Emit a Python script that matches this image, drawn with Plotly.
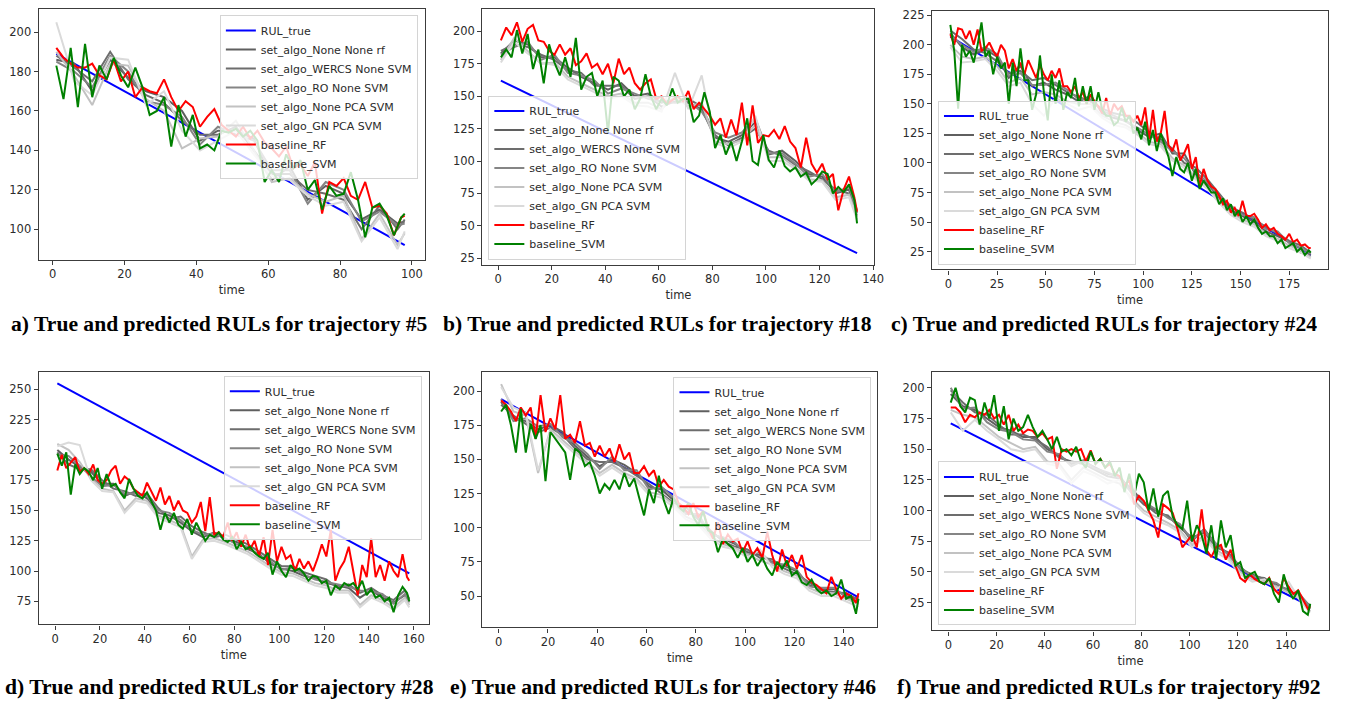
import plotly.graph_objects as go

W, H = 1346, 705

SERIES_NAMES = [
    "RUL_true",
    "set_algo_None None rf",
    "set_algo_WERCS None SVM",
    "set_algo_RO None SVM",
    "set_algo_None PCA SVM",
    "set_algo_GN PCA SVM",
    "baseline_RF",
    "baseline_SVM",
]
SERIES_COLORS = ["#0000ff", "#5f5f5f", "#6d6d6d", "#858585", "#c2c2c2", "#dadada", "#ff0000", "#008000"]

CAPTIONS = [
    "a) True and predicted RULs for trajectory #5",
    "b) True and predicted RULs for trajectory #18",
    "c) True and predicted RULs for trajectory #24",
    "d) True and predicted RULs for trajectory #28",
    "e) True and predicted RULs for trajectory #46",
    "f) True and predicted RULs for trajectory #92",
]

# ---------------- trajectory #5 ----------------
A_LEN = 98
A_TRUE = [189, 92]
A_RF = [192, 187, 184, 182, 182, 184, 178, 176, 186, 175,
        180, 167, 172, 170, 169, 176, 167, 160, 165, 162,
        152, 157, 161, 153, 150, 147, 152, 146, 150, 144,
        141, 137, 142, 131, 133, 127, 134, 108, 124, 122,
        126, 117, 115, 124, 111, 112, 108, 97, 106, 107]
A_SVM = [183, 166, 192, 162, 194, 167, 183, 176, 187, 178,
         172, 182, 172, 158, 160, 167, 142, 163, 147, 158,
         141, 143, 140, 150, 149, 151, 147, 150, 145, 124,
         130, 124, 138, 131, 135, 120, 125, 110, 122, 117,
         118, 129, 115, 96, 111, 113, 107, 97, 106, 108]
A_GRAY_STEP = 5
A_G1 = [186, 184, 170, 186, 177, 170, 167, 160, 145, 150, 150, 146, 125, 132, 115, 122, 118, 105, 110, 103, 104]
A_G2 = [188, 182, 175, 190, 176, 168, 164, 155, 148, 148, 152, 140, 128, 128, 120, 118, 115, 100, 112, 100, 105]
A_G3 = [185, 180, 172, 188, 180, 165, 163, 157, 143, 152, 148, 145, 130, 130, 113, 124, 120, 104, 109, 102, 103]
A_G4 = [190, 178, 163, 184, 183, 166, 160, 141, 146, 147, 155, 140, 124, 126, 118, 114, 117, 95, 108, 92, 98]
A_G5 = [205, 175, 168, 187, 186, 163, 170, 150, 140, 145, 150, 138, 127, 125, 117, 112, 114, 94, 106, 90, 99]

# ---------------- trajectory #18 ----------------
B_LEN = 134
B_TRUE = [162, 29]
B_RF = [193, 203, 197, 207, 192, 202, 205, 193, 192, 185,
        182, 190, 182, 187, 174, 177, 183, 172, 175, 167,
        175, 160, 179, 167, 172, 160, 155, 160, 163, 148,
        150, 144, 147, 150, 146, 154, 140, 145, 140, 135,
        128, 133, 118, 132, 120, 145, 112, 143, 114, 120,
        119, 124, 117, 127, 115, 110, 95, 118, 98, 91,
        98, 86, 90, 62, 78, 88, 72, 61]
B_SVM = [180, 186, 180, 201, 183, 198, 171, 186, 160, 190,
         176, 166, 180, 165, 195, 155, 165, 168, 150, 162,
         122, 165, 162, 150, 155, 140, 148, 167, 150, 140,
         148, 143, 156, 145, 148, 148, 130, 135, 153, 138,
         110, 120, 105, 115, 100, 115, 133, 100, 97, 120,
         101, 95, 108, 96, 92, 95, 88, 91, 82, 86,
         92, 90, 75, 80, 76, 82, 70, 52]
B_GRAY_STEP = 5
B_G1 = [183, 193, 190, 180, 180, 172, 165, 160, 155, 160, 150, 152, 145, 148, 145, 140, 118, 115, 120, 130, 105, 108, 100, 90, 88, 75, 78, 60]
B_G2 = [185, 190, 188, 182, 178, 170, 168, 158, 158, 158, 148, 150, 142, 146, 148, 142, 120, 112, 118, 125, 108, 104, 97, 92, 86, 78, 75, 58]
B_G3 = [182, 188, 192, 178, 182, 168, 166, 162, 152, 156, 152, 148, 146, 145, 146, 138, 122, 118, 122, 133, 106, 106, 98, 88, 90, 76, 80, 62]
B_G4 = [178, 195, 185, 175, 176, 165, 160, 155, 150, 152, 145, 145, 140, 150, 142, 145, 115, 113, 116, 128, 103, 103, 95, 86, 85, 72, 74, 57]
B_G5 = [176, 192, 183, 176, 174, 163, 158, 153, 148, 150, 143, 142, 138, 168, 140, 166, 114, 110, 115, 135, 100, 100, 94, 85, 84, 70, 72, 55]

# ---------------- trajectory #24 ----------------
C_LEN = 186
C_TRUE = [207, 22]
C_RF = [209, 200, 214, 213, 205, 212, 200, 213, 195, 197,
        202, 195, 190, 200, 195, 180, 188, 178, 185, 175,
        187, 180, 172, 183, 175, 170, 178, 172, 180, 165,
        165, 160, 165, 155, 160, 150, 158, 152, 148, 142,
        155, 140, 150, 145, 148, 140, 140, 135, 140, 132,
        147, 120, 145, 118, 125, 144, 115, 110, 120, 102,
        108, 116, 95, 105, 80, 95, 85, 80, 78, 72,
        65, 68, 58, 62, 55, 68, 55, 55, 57, 52,
        45, 48, 43, 45, 40, 38, 35, 40, 33, 35,
        30, 31, 28, 28]
C_SVM = [217, 195, 146, 200, 190, 195, 185, 200, 219, 190,
         195, 175, 190, 180, 185, 150, 185, 165, 197, 170,
         170, 145, 158, 191, 160, 136, 175, 150, 170, 145,
         160, 155, 172, 148, 165, 150, 165, 145, 160, 145,
         140, 140, 132, 135, 147, 135, 140, 125, 130, 120,
         135, 115, 128, 110, 125, 115, 105, 89, 105, 95,
         92, 100, 85, 95, 78, 85, 80, 75, 75, 65,
         70, 60, 65, 55, 60, 50, 55, 48, 52, 45,
         40, 42, 38, 38, 32, 35, 28, 30, 32, 25,
         28, 22, 26, 24]
C_GRAY_STEP = 6
C_G1 = [210, 198, 192, 196, 190, 172, 182, 165, 168, 162, 158, 152, 157, 142, 138, 136, 128, 122, 125, 108, 108, 90, 82, 70, 60, 55, 50, 42, 38, 33, 24, 22]
C_G2 = [212, 205, 196, 193, 186, 176, 178, 170, 172, 166, 160, 156, 152, 146, 142, 140, 134, 126, 120, 112, 100, 96, 86, 74, 62, 58, 52, 46, 40, 34, 30, 24]
C_G3 = [208, 200, 194, 198, 192, 174, 176, 166, 166, 168, 162, 154, 154, 144, 140, 135, 130, 124, 118, 110, 104, 92, 84, 72, 64, 56, 54, 44, 42, 32, 28, 23]
C_G4 = [200, 190, 188, 190, 182, 168, 172, 158, 160, 158, 152, 150, 150, 140, 135, 132, 126, 118, 116, 104, 98, 88, 80, 68, 58, 52, 48, 40, 36, 30, 26, 20]
C_G5 = [198, 185, 186, 188, 178, 165, 168, 150, 140, 155, 150, 145, 148, 138, 132, 130, 124, 116, 114, 102, 96, 86, 78, 66, 56, 50, 46, 38, 34, 28, 24, 19]

# ---------------- trajectory #28 ----------------
D_LEN = 158
D_TRUE = [255, 98]
D_RF = [183, 196, 185, 190, 194, 182, 185, 180, 188, 175,
        172, 175, 183, 187, 172, 178, 175, 168, 165, 162,
        173, 165, 158, 169, 155, 162, 150, 158, 150, 148,
        140, 145, 157, 133, 161, 130, 132, 128, 140, 125,
        132, 120, 130, 118, 125, 112, 128, 105, 134, 108,
        120, 110, 113, 100, 110, 102, 108, 100, 110, 122,
        112, 134, 92, 102, 108, 120, 100, 80, 105, 95,
        127, 95, 105, 92, 108, 100, 95, 114, 95, 92]
D_SVM = [197, 187, 198, 163, 188, 180, 185, 182, 175, 185,
         168, 180, 170, 172, 165, 160, 176, 168, 162, 160,
         165, 158, 150, 134, 148, 140, 148, 138, 135, 143,
         130, 140, 132, 125, 130, 128, 132, 126, 124, 128,
         118, 124, 118, 120, 115, 112, 110, 115, 97, 108,
         100, 95, 105, 100, 102, 98, 92, 96, 95, 90,
         92, 80, 88, 85, 90, 88, 90, 85, 92, 80,
         85, 78, 80, 75, 78, 66, 80, 87, 82, 75]
D_GRAY_STEP = 5
D_G1 = [200, 192, 186, 182, 172, 172, 162, 166, 160, 148, 146, 140, 133, 128, 132, 126, 124, 118, 114, 106, 102, 100, 96, 94, 90, 88, 86, 78, 84, 78, 74, 80, 75]
D_G2 = [198, 188, 184, 184, 175, 168, 166, 162, 164, 152, 143, 145, 137, 132, 128, 130, 126, 122, 116, 110, 104, 104, 99, 96, 93, 86, 89, 82, 86, 80, 76, 84, 77]
D_G3 = [196, 195, 187, 178, 170, 171, 164, 164, 162, 150, 148, 142, 134, 130, 131, 127, 122, 120, 113, 108, 101, 103, 97, 93, 91, 89, 87, 84, 83, 81, 73, 81, 74]
D_G4 = [205, 200, 190, 176, 168, 166, 150, 160, 158, 146, 142, 138, 112, 126, 127, 124, 120, 116, 110, 104, 99, 98, 94, 90, 88, 84, 84, 72, 80, 76, 70, 78, 72]
D_G5 = [203, 206, 204, 175, 166, 165, 148, 158, 156, 144, 140, 136, 110, 124, 125, 122, 118, 114, 108, 102, 97, 96, 92, 88, 86, 82, 82, 70, 78, 74, 68, 76, 70]

# ---------------- trajectory #46 ----------------
E_LEN = 146
E_TRUE = [194, 49]
E_RF = [193, 190, 185, 178, 188, 182, 188, 165, 197, 170,
        180, 172, 197, 165, 168, 162, 178, 160, 162, 152,
        160, 152, 158, 148, 161, 150, 155, 140, 140, 145,
        138, 142, 130, 135, 130, 128, 118, 115, 110, 118,
        108, 112, 100, 92, 104, 88, 95, 90, 92, 82,
        90, 80, 85, 78, 97, 80, 68, 84, 72, 80,
        70, 80, 64, 60, 58, 55, 52, 64, 55, 48,
        52, 50, 45, 52]
E_SVM = [185, 190, 175, 155, 187, 155, 176, 165, 175, 134,
         170, 165, 160, 155, 135, 158, 155, 145, 148, 138,
         125, 132, 128, 135, 128, 140, 130, 136, 122, 109,
         128, 118, 138, 120, 110, 122, 115, 112, 118, 108,
         102, 112, 98, 96, 82, 92, 88, 85, 78, 85,
         75, 80, 72, 78, 70, 65, 75, 70, 76, 65,
         68, 60, 58, 62, 55, 52, 54, 50, 52, 62,
         48, 50, 37, 48]
E_GRAY_STEP = 5
E_G1 = [192, 180, 178, 172, 175, 170, 160, 152, 145, 150, 146, 140, 130, 128, 120, 112, 108, 96, 92, 88, 82, 80, 75, 72, 68, 58, 55, 55, 50, 48]
E_G2 = [190, 182, 176, 170, 173, 168, 158, 150, 148, 148, 144, 138, 132, 125, 118, 115, 106, 98, 90, 86, 84, 78, 77, 70, 66, 60, 54, 53, 52, 47]
E_G3 = [194, 178, 180, 174, 176, 166, 162, 154, 143, 152, 142, 142, 128, 130, 122, 110, 110, 95, 93, 89, 80, 82, 74, 73, 69, 57, 56, 56, 49, 46]
E_G4 = [205, 185, 182, 140, 172, 164, 156, 148, 140, 146, 140, 136, 126, 124, 117, 108, 104, 94, 88, 85, 80, 76, 73, 68, 65, 56, 52, 52, 48, 44]
E_G5 = [203, 188, 184, 142, 170, 162, 154, 146, 138, 144, 138, 134, 124, 122, 115, 106, 102, 92, 86, 84, 78, 84, 71, 66, 63, 54, 50, 50, 46, 42]

# ---------------- trajectory #92 ----------------
F_LEN = 150
F_TRUE = [171, 22]
F_RF = [184, 184, 180, 172, 178, 176, 180, 178, 182, 175,
        178, 170, 178, 165, 170, 163, 166, 165, 160, 163,
        158, 160, 134, 150, 148, 150, 148, 150, 140, 149,
        138, 142, 135, 138, 130, 128, 120, 125, 105, 112,
        108, 100, 92, 78, 105, 102, 98, 85, 70, 75,
        80, 70, 101, 68, 62, 70, 72, 60, 68, 55,
        45, 42, 48, 44, 42, 40, 45, 36, 32, 45,
        38, 32, 35, 28, 20, 22]
F_SVM = [188, 200, 185, 180, 192, 190, 170, 188, 175, 194,
         165, 185, 158, 175, 165, 168, 178, 168, 160, 165,
         158, 150, 160, 148, 150, 145, 152, 140, 135, 148,
         138, 142, 135, 140, 128, 135, 115, 130, 112, 130,
         123, 100, 118, 95, 112, 116, 95, 88, 85, 108,
         75, 88, 80, 65, 88, 60, 92, 70, 80, 55,
         58, 45, 48, 50, 42, 40, 45, 32, 25, 48,
         35, 28, 35, 18, 15, 24]
F_GRAY_STEP = 5
F_G1 = [195, 185, 182, 175, 168, 165, 160, 160, 150, 145, 138, 140, 135, 130, 128, 115, 105, 100, 95, 88, 75, 85, 72, 65, 52, 48, 44, 40, 35, 30, 22]
F_G2 = [198, 188, 180, 178, 170, 162, 162, 158, 152, 143, 140, 138, 133, 128, 126, 118, 106, 98, 96, 86, 78, 82, 70, 66, 54, 46, 45, 38, 36, 28, 20]
F_G3 = [200, 183, 184, 172, 166, 164, 158, 157, 148, 146, 136, 141, 134, 131, 127, 114, 107, 101, 94, 89, 76, 84, 73, 64, 53, 47, 43, 41, 34, 31, 21]
F_G4 = [182, 178, 176, 168, 160, 155, 150, 152, 140, 138, 125, 135, 130, 125, 122, 110, 100, 95, 90, 84, 72, 80, 68, 62, 50, 44, 42, 38, 33, 28, 18]
F_G5 = [180, 165, 174, 165, 158, 150, 148, 150, 138, 136, 122, 132, 128, 122, 125, 108, 98, 92, 88, 82, 70, 78, 66, 60, 48, 42, 44, 36, 42, 26, 17]

TRAJ = [
    (A_LEN, A_TRUE, [A_G1, A_G2, A_G3, A_G4, A_G5], A_GRAY_STEP, A_RF, A_SVM),
    (B_LEN, B_TRUE, [B_G1, B_G2, B_G3, B_G4, B_G5], B_GRAY_STEP, B_RF, B_SVM),
    (C_LEN, C_TRUE, [C_G1, C_G2, C_G3, C_G4, C_G5], C_GRAY_STEP, C_RF, C_SVM),
    (D_LEN, D_TRUE, [D_G1, D_G2, D_G3, D_G4, D_G5], D_GRAY_STEP, D_RF, D_SVM),
    (E_LEN, E_TRUE, [E_G1, E_G2, E_G3, E_G4, E_G5], E_GRAY_STEP, E_RF, E_SVM),
    (F_LEN, F_TRUE, [F_G1, F_G2, F_G3, F_G4, F_G5], F_GRAY_STEP, F_RF, F_SVM),
]

# Layout of each panel in pixels: plot box (left, right, top, bottom), axis ranges, tick steps,
# legend anchor and caption centre.
PANELS = [
    dict(box=(39, 428, 6, 258), xr=(-3.9, 103.6), yr=(84.7, 211.7), dx=20, dy=20,
         leg=(421, 12, "right", "top"), cap=(221, 323)),
    dict(box=(486, 881, 6, 263), xr=(-5.9, 140.5), yr=(20.2, 217.3), dx=20, dy=25,
         leg=(492, 258, "left", "bottom"), cap=(662, 323)),
    dict(box=(939, 1338, 8, 268), xr=(-8.4, 194.9), yr=(9.8, 228.7), dx=25, dy=25,
         leg=(945, 263, "left", "bottom"), cap=(1112, 323)),
    dict(box=(39, 432, 371, 625), xr=(-7.3, 166.7), yr=(55.9, 264.4), dx=20, dy=25,
         leg=(425, 375, "right", "top"), cap=(221, 688)),
    dict(box=(486, 884, 371, 628), xr=(-6.6, 153.7), yr=(27.0, 214.0), dx=20, dy=25,
         leg=(878, 376, "right", "top"), cap=(668, 688)),
    dict(box=(939, 1339, 371, 631), xr=(-6.75, 157.8), yr=(2.3, 213.0), dx=20, dy=25,
         leg=(945, 626, "left", "bottom"), cap=(1117, 688)),
]

TICK_FONT = dict(family="DejaVu Sans", size=11.5, color="#2b2b2b")
LEGEND_FONT = dict(family="DejaVu Sans", size=11, color="#2b2b2b")


def px_x(v):
    return v / W


def px_y(v):
    return 1 - v / H


def grid(n, step, count):
    return [min(1 + step * i, n) for i in range(count)]


fig = go.Figure()
layout = dict(
    width=W, height=H, autosize=False,
    margin=dict(l=0, r=0, t=0, b=0),
    paper_bgcolor="white", plot_bgcolor="white",
    showlegend=True, hovermode=False,
    annotations=[],
)

for k, ((n, true_end, grays, gstep, rf, svm), p) in enumerate(zip(TRAJ, PANELS)):
    sfx = "" if k == 0 else str(k + 1)
    xa, ya = "x" + sfx, "y" + sfx
    leg = "legend" + sfx
    series = [([1, n], true_end)]
    for g in grays:
        series.append((grid(n, gstep, len(g)), g))
    series.append((grid(n, 2, len(rf)), rf))
    series.append((grid(n, 2, len(svm)), svm))
    for (xs, ys), name, col in zip(series, SERIES_NAMES, SERIES_COLORS):
        fig.add_trace(go.Scatter(
            x=xs, y=ys, mode="lines", name=name,
            line=dict(color=col, width=2),
            xaxis=xa, yaxis=ya, legend=leg, showlegend=True,
        ))

    l, r, t, b = p["box"]
    axis_common = dict(
        showline=True, mirror=True, linecolor="#3c3c3c", linewidth=1.3,
        ticks="outside", ticklen=4, tickwidth=1.2, tickcolor="#3c3c3c",
        showgrid=False, zeroline=False, tickfont=TICK_FONT,
    )
    layout["xaxis" + sfx] = dict(
        domain=[px_x(l), px_x(r)], range=list(p["xr"]), anchor=ya,
        tick0=0, dtick=p["dx"],
        title=dict(text="time", font=TICK_FONT, standoff=5),
        **axis_common,
    )
    layout["yaxis" + sfx] = dict(
        domain=[px_y(b), px_y(t)], range=list(p["yr"]), anchor=xa,
        tick0=0, dtick=p["dy"],
        **axis_common,
    )
    lx, ly, lxa, lya = p["leg"]
    layout[leg] = dict(
        x=px_x(lx), y=px_y(ly), xanchor=lxa, yanchor=lya,
        xref="paper", yref="paper",
        bgcolor="rgba(255,255,255,0.8)", bordercolor="#d4d4d4", borderwidth=1,
        font=LEGEND_FONT, traceorder="normal", itemwidth=30,
    )
    cx, cy = p["cap"]
    layout["annotations"].append(dict(
        text=CAPTIONS[k], x=px_x(cx), y=px_y(cy), xref="paper", yref="paper",
        xanchor="center", yanchor="middle", showarrow=False,
        font=dict(family="Liberation Serif", size=21.6, color="black", weight="bold"),
    ))

fig.update_layout(**layout)
fig.write_html("out.html", config={"displayModeBar": False})
